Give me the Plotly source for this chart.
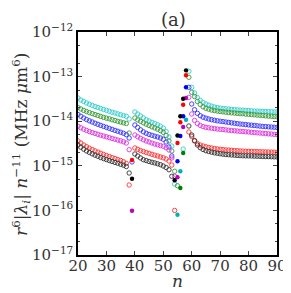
import plotly.graph_objects as go

# ---------------- data ----------------
n_left = list(range(20, 39))    # 20..38
n_mid = list(range(40, 54))     # 40..53
n_right = list(range(59, 91))   # 59..90

cyan_left = [3.31e-14, 2.99e-14, 2.77e-14, 2.56e-14, 2.40e-14, 2.26e-14, 2.14e-14, 2.03e-14, 1.93e-14, 1.83e-14,
             1.75e-14, 1.67e-14, 1.59e-14, 1.53e-14, 1.46e-14, 1.40e-14, 1.34e-14, 1.29e-14, 1.12e-14]
cyan_mid = [1.61e-14, 1.45e-14, 1.31e-14, 1.18e-14, 1.08e-14, 1.01e-14, 9.44e-15, 8.87e-15, 8.30e-15, 7.73e-15,
            7.05e-15, 5.87e-15, 4.43e-15, 2.78e-15]
cyan_right = [1.32e-13, 5.75e-14, 4.29e-14, 3.40e-14, 2.94e-14, 2.62e-14, 2.43e-14, 2.29e-14, 2.17e-14, 2.08e-14,
              2.02e-14, 1.97e-14, 1.93e-14, 1.90e-14, 1.87e-14, 1.84e-14, 1.82e-14, 1.80e-14, 1.78e-14, 1.77e-14,
              1.75e-14, 1.73e-14, 1.71e-14, 1.69e-14, 1.68e-14, 1.67e-14, 1.66e-14, 1.65e-14, 1.64e-14, 1.63e-14,
              1.62e-14, 1.61e-14]
cyan_extra_n = [54, 57]
cyan_extra = [3.91e-16, 2.38e-15]
cyan_filled_n = [55, 56, 58]
cyan_filled = [8.00e-17, 7.53e-16, 1.08e-14]

green_left = [2.03e-14, 1.88e-14, 1.75e-14, 1.65e-14, 1.56e-14, 1.48e-14, 1.41e-14, 1.34e-14, 1.28e-14, 1.22e-14,
              1.17e-14, 1.13e-14, 1.08e-14, 1.04e-14, 9.95e-15, 9.59e-15, 9.20e-15, 8.87e-15, 5.43e-15]
green_mid = [1.18e-14, 1.07e-14, 9.95e-15, 9.20e-15, 8.57e-15, 8.02e-15, 7.48e-15, 7.05e-15, 6.62e-15, 6.15e-15,
             5.64e-15, 4.78e-15, 3.60e-15, 2.15e-15]
green_right = [9.64e-14, 4.45e-14, 3.58e-14, 2.77e-14, 2.37e-14, 2.10e-14, 1.95e-14, 1.86e-14, 1.78e-14, 1.73e-14,
               1.69e-14, 1.65e-14, 1.62e-14, 1.59e-14, 1.57e-14, 1.54e-14, 1.52e-14, 1.50e-14, 1.48e-14, 1.47e-14,
               1.44e-14, 1.43e-14, 1.41e-14, 1.39e-14, 1.37e-14, 1.36e-14, 1.34e-14, 1.32e-14, 1.30e-14, 1.29e-14,
               1.27e-14, 1.26e-14]
green_extra_n = [54, 55]
green_extra = [7.53e-16, 3.58e-16]
green_filled_n = [56, 57]
green_filled = [3.18e-16, 1.94e-15]

blue_left = [1.41e-14, 1.29e-14, 1.18e-14, 1.09e-14, 1.02e-14, 9.59e-15, 9.02e-15, 8.51e-15, 8.05e-15, 7.64e-15,
             7.26e-15, 6.90e-15, 6.55e-15, 6.22e-15, 5.94e-15, 5.66e-15, 5.36e-15, 4.98e-15, 4.20e-15]
blue_mid = [8.22e-15, 7.23e-15, 6.41e-15, 5.78e-15, 5.36e-15, 5.06e-15, 4.83e-15, 4.61e-15, 4.43e-15, 4.20e-15,
            3.93e-15, 3.42e-15, 2.64e-15, 1.66e-15]
blue_right = [5.75e-14, 2.43e-14, 1.81e-14, 1.50e-14, 1.33e-14, 1.23e-14, 1.17e-14, 1.12e-14, 1.08e-14, 1.05e-14,
              1.02e-14, 1.00e-14, 9.79e-15, 9.59e-15, 9.40e-15, 9.20e-15, 9.02e-15, 8.83e-15, 8.65e-15, 8.53e-15,
              8.39e-15, 8.26e-15, 8.13e-15, 8.02e-15, 7.89e-15, 7.76e-15, 7.64e-15, 7.57e-15, 7.48e-15, 7.41e-15,
              7.33e-15, 7.26e-15]
blue_extra_n = [39]
blue_extra = [1.22e-15]
blue_filled_n = [55, 56, 57, 58]
blue_filled = [1.26e-15, 4.66e-15, 1.29e-14, 5.75e-14]

magenta_left = [7.69e-15, 7.11e-15, 6.62e-15, 6.22e-15, 5.87e-15, 5.58e-15, 5.32e-15, 5.08e-15, 4.85e-15, 4.66e-15,
                4.47e-15, 4.29e-15, 4.11e-15, 3.94e-15, 3.78e-15, 3.63e-15, 3.45e-15, 3.24e-15, 2.30e-15]
magenta_mid = [4.91e-15, 4.47e-15, 4.14e-15, 3.83e-15, 3.60e-15, 3.42e-15, 3.24e-15, 3.08e-15, 2.96e-15, 2.84e-15,
               2.74e-15, 2.54e-15, 2.26e-15, 1.50e-15]
magenta_right = [3.44e-14, 1.45e-14, 1.04e-14, 8.87e-15, 8.05e-15, 7.57e-15, 7.29e-15, 7.11e-15, 6.97e-15, 6.82e-15,
                 6.68e-15, 6.58e-15, 6.49e-15, 6.38e-15, 6.28e-15, 6.18e-15, 6.10e-15, 6.03e-15, 5.93e-15, 5.87e-15,
                 5.78e-15, 5.73e-15, 5.64e-15, 5.58e-15, 5.50e-15, 5.43e-15, 5.36e-15, 5.30e-15, 5.21e-15, 5.16e-15,
                 5.08e-15, 5.04e-15]
magenta_extra_n = [54]
magenta_extra = [5.82e-16]
magenta_filled_n = [39, 55, 57, 58]
magenta_filled = [9.84e-17, 5.52e-16, 7.41e-15, 3.31e-14]

red_left = [3.60e-15, 3.24e-15, 2.92e-15, 2.68e-15, 2.48e-15, 2.31e-15, 2.16e-15, 2.03e-15, 1.91e-15, 1.80e-15,
            1.70e-15, 1.62e-15, 1.53e-15, 1.46e-15, 1.38e-15, 1.32e-15, 1.23e-15, 1.13e-15, 3.71e-16]
red_mid = [2.51e-15, 2.34e-15, 2.20e-15, 2.09e-15, 1.99e-15, 1.90e-15, 1.81e-15, 1.73e-15, 1.66e-15, 1.58e-15,
           1.51e-15, 1.42e-15, 1.28e-15, 1.04e-15]
red_right = [5.73e-15, 4.54e-15, 3.60e-15, 3.16e-15, 2.92e-15, 2.78e-15, 2.67e-15, 2.57e-15, 2.51e-15, 2.44e-15,
             2.39e-15, 2.34e-15, 2.31e-15, 2.27e-15, 2.25e-15, 2.23e-15, 2.20e-15, 2.18e-15, 2.16e-15, 2.14e-15,
             2.12e-15, 2.11e-15, 2.10e-15, 2.09e-15, 2.08e-15, 2.07e-15, 2.06e-15, 2.05e-15, 2.04e-15, 2.03e-15,
             2.02e-15, 2.01e-15]
red_extra_n = [54]
red_extra = [1.00e-16]
red_filled_n = [39, 55, 56, 57, 58]
red_filled = [1.35e-15, 3.24e-15, 9.44e-15, 2.34e-14, 1.07e-13]

black_left = [2.92e-15, 2.61e-15, 2.36e-15, 2.15e-15, 1.99e-15, 1.85e-15, 1.73e-15, 1.63e-15, 1.53e-15, 1.45e-15,
              1.38e-15, 1.31e-15, 1.25e-15, 1.19e-15, 1.14e-15, 1.08e-15, 1.03e-15, 9.64e-16, 6.90e-16]
black_mid = [1.84e-15, 1.66e-15, 1.50e-15, 1.37e-15, 1.31e-15, 1.25e-15, 1.20e-15, 1.16e-15, 1.11e-15, 1.06e-15,
             9.89e-16, 9.16e-16, 8.17e-16, 5.82e-16]
black_right = [7.80e-15, 4.91e-15, 3.69e-15, 2.92e-15, 2.54e-15, 2.32e-15, 2.18e-15, 2.09e-15, 2.02e-15, 1.95e-15,
               1.91e-15, 1.86e-15, 1.82e-15, 1.79e-15, 1.77e-15, 1.75e-15, 1.73e-15, 1.71e-15, 1.69e-15, 1.68e-15,
               1.67e-15, 1.665e-15, 1.66e-15, 1.65e-15, 1.64e-15, 1.63e-15, 1.62e-15, 1.61e-15, 1.605e-15, 1.60e-15,
               1.59e-15, 1.58e-15]
black_extra_n = []
black_extra = []
black_filled_n = [39, 54, 55, 56, 57, 58]
black_filled = [5.14e-16, 4.73e-16, 4.78e-15, 1.29e-14, 3.19e-14, 1.38e-13]

y_tick_vals = [1e-17, 1e-16, 1e-15, 1e-14, 1e-13, 1e-12]
y_tick_text = ["10<sup>−17</sup>", "10<sup>−16</sup>", "10<sup>−15</sup>",
               "10<sup>−14</sup>", "10<sup>−13</sup>", "10<sup>−12</sup>"]
x_tick_vals = [20, 30, 40, 50, 60, 70, 80, 90]

series = [
    ("cyan", "#33cccc", "#00b3b3", cyan_left, cyan_mid, cyan_right, cyan_extra_n, cyan_extra, cyan_filled_n, cyan_filled),
    ("green", "#3a9a3a", "#008000", green_left, green_mid, green_right, green_extra_n, green_extra, green_filled_n, green_filled),
    ("blue", "#3333ff", "#0000ff", blue_left, blue_mid, blue_right, blue_extra_n, blue_extra, blue_filled_n, blue_filled),
    ("magenta", "#dd33dd", "#c000c0", magenta_left, magenta_mid, magenta_right, magenta_extra_n, magenta_extra, magenta_filled_n, magenta_filled),
    ("red", "#ff3333", "#ff0000", red_left, red_mid, red_right, red_extra_n, red_extra, red_filled_n, red_filled),
    ("black", "#333333", "#000000", black_left, black_mid, black_right, black_extra_n, black_extra, black_filled_n, black_filled),
]

fig = go.Figure()
for name, c_open, c_fill, left, mid, right, en, ev, fn, fv in series:
    xs = n_left + n_mid + n_right + en
    ys = left + mid + right + ev
    fig.add_trace(go.Scatter(
        x=xs, y=ys, mode="markers", name=name, showlegend=False,
        marker=dict(symbol="circle-open", size=4.4, color=c_open, line=dict(width=0.9, color=c_open)),
    ))
for name, c_open, c_fill, left, mid, right, en, ev, fn, fv in series:
    fig.add_trace(go.Scatter(
        x=fn, y=fv, mode="markers", name=name + " filled", showlegend=False,
        marker=dict(symbol="circle", size=4.4, color=c_fill, line=dict(width=0)),
    ))

serif = "DejaVu Serif"
txt = "#333333"
fig.update_layout(
    width=291, height=293,
    margin=dict(l=70, r=13, t=24, b=46),
    paper_bgcolor="white", plot_bgcolor="white",
    font=dict(family=serif, color=txt, size=14),
    xaxis=dict(
        range=[20, 90], tickvals=x_tick_vals, ticks="inside", ticklen=4, tickwidth=1,
        showline=True, linecolor="black", linewidth=1.5, mirror="ticks",
        showgrid=False, zeroline=False, tickfont=dict(size=15, family=serif, color=txt),
        ticklabelstandoff=-4,
    ),
    yaxis=dict(
        type="log", range=[-17, -12], tickvals=y_tick_vals, ticktext=y_tick_text,
        ticks="inside", ticklen=4, tickwidth=1,
        minor=dict(ticks="inside", ticklen=2, tickwidth=0.8, showgrid=False),
        showline=True, linecolor="black", linewidth=1.5, mirror="ticks",
        showgrid=False, zeroline=False, tickfont=dict(size=15, family=serif, color=txt),
    ),
    annotations=[
        dict(text="(a)", xref="paper", yref="paper", x=0.48, y=1.054, yanchor="middle",
             xanchor="center", showarrow=False, font=dict(size=18, family=serif, color=txt)),
        dict(text="<i>n</i>", xref="paper", yref="paper", x=0.5, y=-0.118, yanchor="middle",
             xanchor="center", showarrow=False, font=dict(size=17, family=serif, color=txt)),
        dict(text="<i>r</i><sup>6</sup>|<i>λ</i><sub><i>i</i></sub>| <i>n</i><sup>−11</sup> (MHz <i>μ</i>m<sup>6</sup>)",
             xref="paper", yref="paper", x=-0.285, y=0.495, xanchor="center", yanchor="middle",
             textangle=-90, showarrow=False, font=dict(size=17, family=serif, color=txt)),
    ],
)

fig.write_html("out.html")
